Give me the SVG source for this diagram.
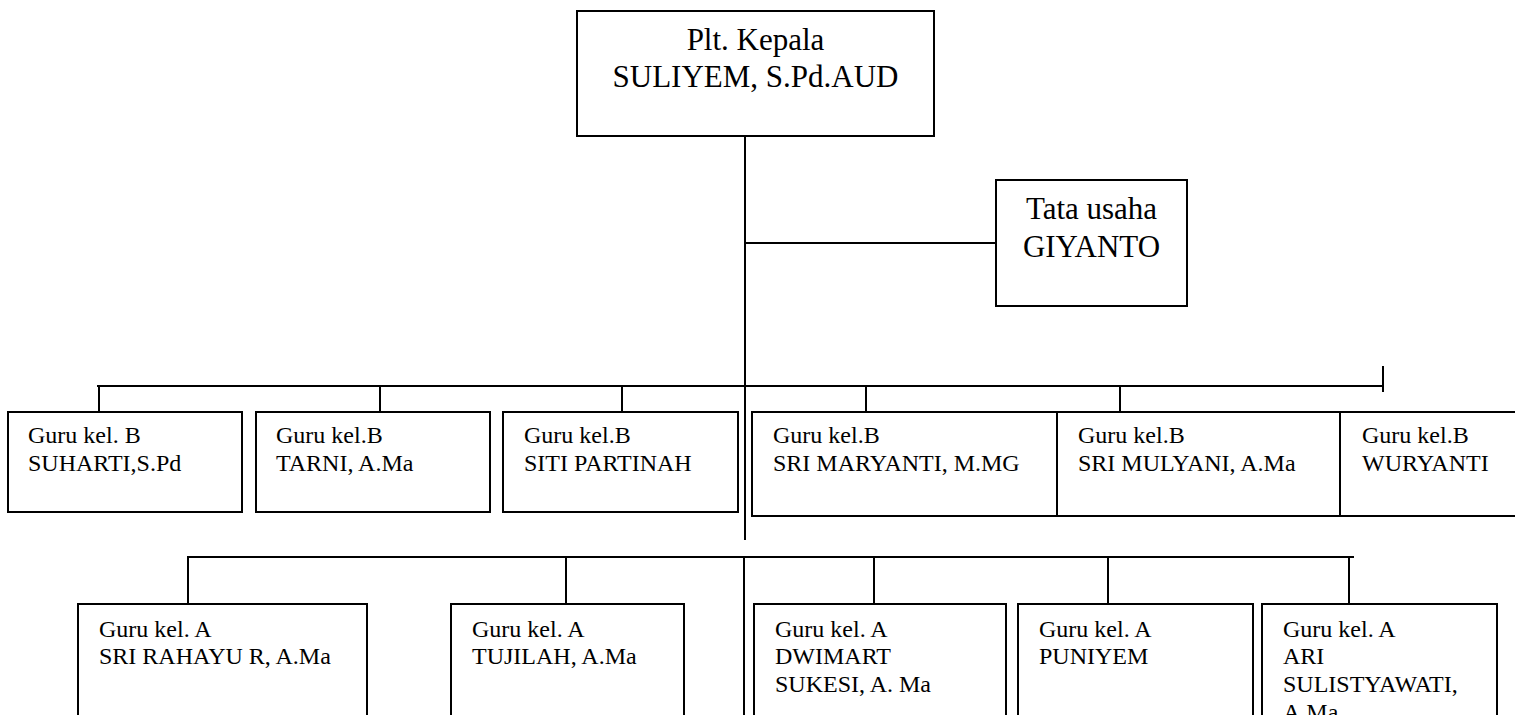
<svg xmlns="http://www.w3.org/2000/svg" width="1515" height="715" viewBox="0 0 1515 715">
<style>
.box{fill:#fff;stroke:#000;stroke-width:2}
.ln{stroke:#000;stroke-width:2;fill:none}
.big{font-family:"Liberation Serif","Times New Roman",serif;font-size:31px;fill:#000;text-anchor:middle}
.sm{font-family:"Liberation Serif","Times New Roman",serif;font-size:24px;fill:#000}
</style>
<rect width="1515" height="715" fill="#fff"/>
<g id="connectors">
<line class="ln" x1="745" y1="136" x2="745" y2="540"/>
<line class="ln" x1="745" y1="243" x2="996" y2="243"/>
<line class="ln" x1="97" y1="386" x2="1383" y2="386"/>
<line class="ln" x1="1383" y1="366" x2="1383" y2="392"/>
<line class="ln" x1="99" y1="386" x2="99" y2="412"/>
<line class="ln" x1="380" y1="386" x2="380" y2="412"/>
<line class="ln" x1="622" y1="386" x2="622" y2="412"/>
<line class="ln" x1="866" y1="386" x2="866" y2="412"/>
<line class="ln" x1="1120" y1="386" x2="1120" y2="412"/>
<line class="ln" x1="187" y1="557" x2="1354" y2="557"/>
<line class="ln" x1="744" y1="557" x2="744" y2="715"/>
<line class="ln" x1="188" y1="557" x2="188" y2="604"/>
<line class="ln" x1="566" y1="557" x2="566" y2="604"/>
<line class="ln" x1="874" y1="557" x2="874" y2="604"/>
<line class="ln" x1="1108" y1="557" x2="1108" y2="604"/>
<line class="ln" x1="1349" y1="557" x2="1349" y2="604"/>
</g>
<g id="kepala">
<rect class="box" x="577" y="11" width="357" height="125"/>
<text class="big" x="755.5" y="50">Plt. Kepala</text>
<text class="big" x="755.5" y="87">SULIYEM, S.Pd.AUD</text>
</g>
<g id="tatausaha">
<rect class="box" x="996" y="180" width="191" height="126"/>
<text class="big" x="1091.5" y="219">Tata usaha</text>
<text class="big" x="1091.5" y="257">GIYANTO</text>
</g>
<g id="b1">
<rect class="box" x="8" y="412" width="234" height="100"/>
<text class="sm" x="28" y="443">Guru kel. B</text>
<text class="sm" x="28" y="471">SUHARTI,S.Pd</text>
</g>
<g id="b2">
<rect class="box" x="256" y="412" width="234" height="100"/>
<text class="sm" x="276" y="443">Guru kel.B</text>
<text class="sm" x="276" y="471">TARNI, A.Ma</text>
</g>
<g id="b3">
<rect class="box" x="503" y="412" width="235" height="100"/>
<text class="sm" x="524" y="443">Guru kel.B</text>
<text class="sm" x="524" y="471">SITI PARTINAH</text>
</g>
<g id="b4">
<rect class="box" x="752" y="412" width="305" height="104"/>
<text class="sm" x="773" y="443">Guru kel.B</text>
<text class="sm" x="773" y="471">SRI MARYANTI, M.MG</text>
</g>
<g id="b5">
<rect class="box" x="1057" y="412" width="283" height="104"/>
<text class="sm" x="1078" y="443">Guru kel.B</text>
<text class="sm" x="1078" y="471">SRI MULYANI, A.Ma</text>
</g>
<g id="b6">
<rect class="box" x="1340" y="412" width="185" height="104"/>
<line class="ln" x1="1340" y1="412" x2="1340" y2="516" stroke-width="3.5"/>
<text class="sm" x="1362" y="443">Guru kel.B</text>
<text class="sm" x="1362" y="471">WURYANTI</text>
</g>
<g id="a1">
<rect class="box" x="78" y="604" width="289" height="130"/>
<text class="sm" x="99" y="637">Guru kel. A</text>
<text class="sm" x="99" y="664">SRI RAHAYU R, A.Ma</text>
</g>
<g id="a2">
<rect class="box" x="451" y="604" width="233" height="130"/>
<text class="sm" x="472" y="637">Guru kel. A</text>
<text class="sm" x="472" y="664">TUJILAH, A.Ma</text>
</g>
<g id="a3">
<rect class="box" x="754" y="604" width="252" height="130"/>
<text class="sm" x="775" y="637">Guru kel. A</text>
<text class="sm" x="775" y="664">DWIMART</text>
<text class="sm" x="775" y="692">SUKESI, A. Ma</text>
</g>
<g id="a4">
<rect class="box" x="1018" y="604" width="235" height="130"/>
<text class="sm" x="1039" y="637">Guru kel. A</text>
<text class="sm" x="1039" y="664">PUNIYEM</text>
</g>
<g id="a5">
<rect class="box" x="1262" y="604" width="235" height="130"/>
<text class="sm" x="1283" y="637">Guru kel. A</text>
<text class="sm" x="1283" y="664">ARI</text>
<text class="sm" x="1283" y="692">SULISTYAWATI,</text>
<text class="sm" x="1283" y="720">A.Ma</text>
</g>
</svg>
